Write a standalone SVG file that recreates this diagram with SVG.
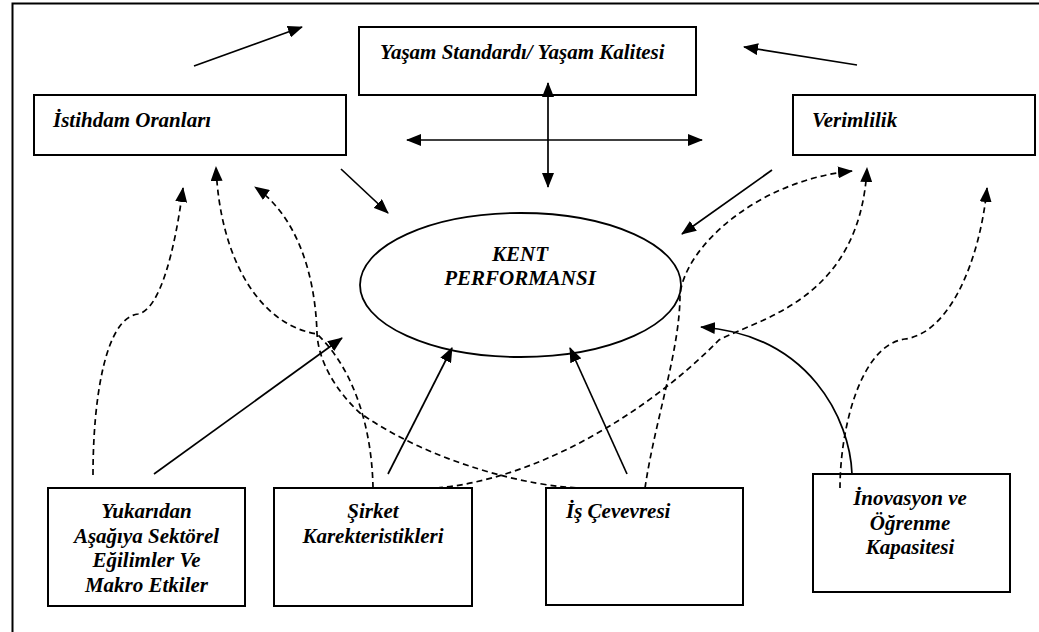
<svg xmlns="http://www.w3.org/2000/svg" width="1039" height="632" viewBox="0 0 1039 632">
<style>
.box{fill:#fff;stroke:#000;stroke-width:2}
.lbl{font-family:"Liberation Serif","Times New Roman",serif;font-weight:bold;font-style:italic;font-size:21px;fill:#000}
.c{fill:none;stroke:#000;stroke-width:1.7}
.d{fill:none;stroke:#000;stroke-width:1.7;stroke-dasharray:6 4}
.s{marker-end:url(#ah)}
.b{marker-start:url(#ah);marker-end:url(#ah)}
</style>
<defs>
<marker id="ah" viewBox="0 0 15 12" refX="14" refY="6" markerWidth="15" markerHeight="12" markerUnits="userSpaceOnUse" orient="auto-start-reverse">
<path d="M0,0 L15,6 L0,12 Z" fill="#000" stroke="none"/>
</marker>
</defs>
<rect width="1039" height="632" fill="#fff"/>
<path d="M12.5,632 V3.5 H1039" fill="none" stroke="#000" stroke-width="2"/>

<g id="yasam">
<rect class="box" x="359" y="27" width="337" height="68"/>
<text class="lbl" x="380" y="59">Yaşam Standardı/ Yaşam Kalitesi</text>
</g>
<g id="istihdam">
<rect class="box" x="34" y="95" width="312" height="60"/>
<text class="lbl" x="53" y="127">İstihdam Oranları</text>
</g>
<g id="verimlilik">
<rect class="box" x="793" y="95" width="242" height="60"/>
<text class="lbl" x="812" y="127">Verimlilik</text>
</g>
<g id="kent">
<ellipse cx="520.5" cy="285" rx="160.5" ry="72" fill="#fff" stroke="#000" stroke-width="1.8"/>
<text class="lbl" x="520" y="261" text-anchor="middle">KENT</text>
<text class="lbl" x="520" y="285" text-anchor="middle">PERFORMANSI</text>
</g>
<g id="yukaridan">
<rect class="box" x="48" y="488" width="197" height="118"/>
<text class="lbl" x="146.5" y="518" text-anchor="middle">Yukarıdan</text>
<text class="lbl" x="146.5" y="543" text-anchor="middle">Aşağıya Sektörel</text>
<text class="lbl" x="146.5" y="567" text-anchor="middle">Eğilimler Ve</text>
<text class="lbl" x="146.5" y="592" text-anchor="middle">Makro Etkiler</text>
</g>
<g id="sirket">
<rect class="box" x="274" y="488" width="198" height="118"/>
<text class="lbl" x="373" y="518" text-anchor="middle">Şirket</text>
<text class="lbl" x="373" y="543" text-anchor="middle">Karekteristikleri</text>
</g>
<g id="is">
<rect class="box" x="546" y="488" width="197" height="117"/>
<text class="lbl" x="566" y="518">İş Çevevresi</text>
</g>
<g id="inovasyon">
<rect class="box" x="813" y="474" width="197" height="118"/>
<text class="lbl" x="910" y="505" text-anchor="middle">İnovasyon ve</text>
<text class="lbl" x="910" y="529.5" text-anchor="middle">Öğrenme</text>
<text class="lbl" x="910" y="554" text-anchor="middle">Kapasitesi</text>
</g>

<g id="connectors">
<path class="c s" d="M194,66 L302,27"/>
<path class="c s" d="M857,65 L744,47"/>
<path class="c b" d="M407,140 H702"/>
<path class="c b" d="M548,83 V187"/>
<path class="c s" d="M341,169 L388,213"/>
<path class="c s" d="M772,170 L682,234"/>
<path class="c s" d="M154,474 L342,338"/>
<path class="c s" d="M388,474 L452,348"/>
<path class="c s" d="M627,474 L570,348"/>
<path class="c s" d="M852,474 C850,420 810,335 701,327"/>
<path class="d s" d="M93,475 C93,400 105,318 138,314 C160,310 175,250 183,188"/>
<path class="d s" d="M373,488 C372,430 355,370 317,334 C260,325 220,260 216,167"/>
<path class="d s" d="M586,488 C530,488 430,462 360,413 C335,390 318,360 317,333 C315,270 295,215 255,187"/>
<path class="d s" d="M437,488 C530,480 640,420 719,340 C760,318 860,300 867,168"/>
<path class="d s" d="M645,488 C655,420 680,350 680,295 C685,245 760,180 852,171"/>
<path class="d s" d="M840,488 C840,430 860,345 905,339 C950,333 980,260 987,188"/>
</g>
</svg>
